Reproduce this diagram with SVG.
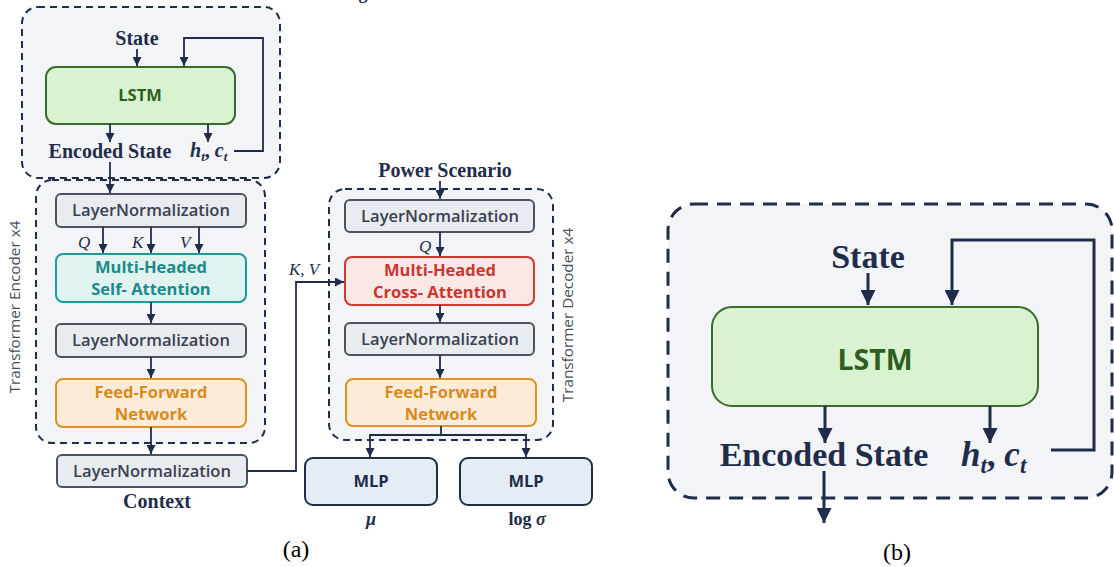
<svg xmlns="http://www.w3.org/2000/svg" width="1114" height="567" viewBox="0 0 1114 567">
<defs>
<style>
.grp{fill:#f3f4f7;stroke:#1f2d4a;stroke-width:2;stroke-dasharray:7,5}
.grpb{fill:#f3f4f7;stroke:#1f2d4a;stroke-width:3;stroke-dasharray:14,9}
.ln{fill:none;stroke:#1f2d4a;stroke-width:1.8}
.lnb{fill:none;stroke:#1f2d4a;stroke-width:3}
.ser{font-family:"Liberation Serif","DejaVu Serif",serif;font-weight:bold;fill:#1f2d4a}
.math{font-family:"Liberation Serif","DejaVu Serif",serif;font-style:italic;fill:#1f2d4a}
.sans{font-family:"Open Sans","Noto Sans","Liberation Sans",sans-serif}
.norm{fill:#e8ebef;stroke:#4a5363;stroke-width:2}
.normt{font-size:16.5px;fill:#3a4150;font-weight:600}
.lstm{fill:#d9f2d0;stroke:#3a6b2a;stroke-width:2}
.lstmt{fill:#2e5e1e;font-weight:bold}
.mhsa{fill:#e0f3f0;stroke:#1e9a9a;stroke-width:2}
.mhsat{fill:#1a8a8a;font-weight:bold;font-size:16.5px}
.mhca{fill:#fbe7e6;stroke:#d03a2e;stroke-width:2}
.mhcat{fill:#c8372d;font-weight:bold;font-size:16.5px}
.ffn{fill:#fbecd9;stroke:#e0921e;stroke-width:2}
.ffnt{fill:#d98a1a;font-weight:bold;font-size:16.5px}
.mlp{fill:#e4ecf5;stroke:#1f2d4a;stroke-width:2}
.mlpt{fill:#1f2d4a;font-weight:bold;font-size:16.5px}
.side{font-family:"Open Sans","Noto Sans",sans-serif;font-size:15.3px;fill:#4a5060}
.cap{font-family:"Liberation Serif",serif;font-size:24px;fill:#000}
</style>
<marker id="ah" viewBox="0 0 10 10" refX="10" refY="5" markerWidth="9" markerHeight="9" markerUnits="userSpaceOnUse" orient="auto"><path d="M0,0 L10,5 L0,10 z" fill="#1f2d4a"/></marker>
<marker id="ahb" viewBox="0 0 10 10" refX="10" refY="5" markerWidth="15" markerHeight="15" markerUnits="userSpaceOnUse" orient="auto"><path d="M0,0 L10,5 L0,10 z" fill="#1f2d4a"/></marker>
</defs>
<rect width="1114" height="567" fill="#ffffff"/>
<text class="ser" x="363" y="-1" font-size="18" text-anchor="middle">g</text>

<!-- Panel (a) groups -->
<g id="lstm-group">
<rect class="grp" x="22" y="7" width="258" height="171" rx="16"/>
<text class="ser" x="137" y="45" font-size="20" text-anchor="middle">State</text>
<text class="ser" x="110" y="158" font-size="20" text-anchor="middle">Encoded State</text>
<text class="ser" x="190" y="157" font-size="20"><tspan font-style="italic">h</tspan><tspan font-style="italic" font-size="13" dy="4">t</tspan><tspan dy="-4">, </tspan><tspan font-style="italic">c</tspan><tspan font-style="italic" font-size="13" dy="4">t</tspan></text>
</g>
<g id="lstm">
<rect class="lstm" x="46" y="67" width="189" height="57" rx="10"/>
<text class="sans lstmt" x="140" y="101" font-size="16.5" text-anchor="middle">LSTM</text>
</g>

<g id="encoder">
<rect class="grp" x="36" y="180" width="229" height="263" rx="16"/>
<text class="side" transform="translate(20,307) rotate(-90)" text-anchor="middle">Transformer Encoder x4</text>
</g>
<g id="enc-ln1">
<rect class="norm" x="56" y="194" width="190" height="33" rx="5"/>
<text class="sans normt" x="151" y="216" text-anchor="middle">LayerNormalization</text>
</g>
<g id="enc-mhsa">
<rect class="mhsa" x="56" y="254" width="190" height="48" rx="7"/>
<text class="sans mhsat" x="151" y="273" text-anchor="middle">Multi-Headed</text>
<text class="sans mhsat" x="151" y="295" text-anchor="middle">Self- Attention</text>
</g>
<g id="enc-ln2">
<rect class="norm" x="56" y="324" width="190" height="33" rx="5"/>
<text class="sans normt" x="151" y="346" text-anchor="middle">LayerNormalization</text>
</g>
<g id="enc-ffn">
<rect class="ffn" x="56" y="379" width="190" height="48" rx="7"/>
<text class="sans ffnt" x="151" y="398" text-anchor="middle">Feed-Forward</text>
<text class="sans ffnt" x="151" y="420" text-anchor="middle">Network</text>
</g>
<g id="context-ln">
<rect class="norm" x="57" y="455" width="190" height="32" rx="5"/>
<text class="sans normt" x="152" y="477" text-anchor="middle">LayerNormalization</text>
<text class="ser" x="157" y="508" font-size="20" text-anchor="middle">Context</text>
</g>

<g id="decoder">
<rect class="grp" x="329" y="189" width="224" height="251" rx="16"/>
<text class="side" transform="translate(573,315) rotate(-90)" text-anchor="middle">Transformer Decoder x4</text>
<text class="ser" x="445" y="177" font-size="20" text-anchor="middle">Power Scenario</text>
</g>
<g id="dec-ln1">
<rect class="norm" x="345" y="200" width="189" height="32" rx="5"/>
<text class="sans normt" x="440" y="222" text-anchor="middle">LayerNormalization</text>
</g>
<g id="dec-mhca">
<rect class="mhca" x="345" y="257" width="189" height="48" rx="7"/>
<text class="sans mhcat" x="440" y="276" text-anchor="middle">Multi-Headed</text>
<text class="sans mhcat" x="440" y="298" text-anchor="middle">Cross- Attention</text>
</g>
<g id="dec-ln2">
<rect class="norm" x="345" y="323" width="189" height="32" rx="5"/>
<text class="sans normt" x="440" y="345" text-anchor="middle">LayerNormalization</text>
</g>
<g id="dec-ffn">
<rect class="ffn" x="346" y="379" width="190" height="47" rx="7"/>
<text class="sans ffnt" x="441" y="398" text-anchor="middle">Feed-Forward</text>
<text class="sans ffnt" x="441" y="420" text-anchor="middle">Network</text>
</g>
<g id="mlp-mu">
<rect class="mlp" x="305" y="458" width="132" height="47" rx="8"/>
<text class="sans mlpt" x="371" y="487" text-anchor="middle">MLP</text>
<text class="math" x="371" y="525" font-size="18" font-weight="bold" text-anchor="middle">μ</text>
</g>
<g id="mlp-sigma">
<rect class="mlp" x="460" y="458" width="132" height="47" rx="8"/>
<text class="sans mlpt" x="526" y="487" text-anchor="middle">MLP</text>
<text class="ser" x="527" y="525" font-size="18" text-anchor="middle">log <tspan font-style="italic">σ</tspan></text>
</g>

<!-- Panel (b) -->
<g id="lstm-detail">
<rect class="grpb" x="668" y="204" width="444" height="294" rx="26"/>
<text class="ser" x="868" y="268" font-size="34" text-anchor="middle">State</text>
<rect class="lstm" x="712" y="307" width="326" height="99" rx="20" stroke-width="3"/>
<text class="sans lstmt" x="875" y="370" font-size="28.5" text-anchor="middle">LSTM</text>
<text class="ser" x="824" y="466" font-size="34" text-anchor="middle">Encoded State</text>
<text class="ser" x="961" y="466" font-size="35"><tspan font-style="italic">h</tspan><tspan font-style="italic" font-size="23" dy="7">t</tspan><tspan dy="-7">, </tspan><tspan font-style="italic">c</tspan><tspan font-style="italic" font-size="23" dy="7">t</tspan></text>
</g>

<!-- Labels -->
<g id="labels">
<text class="math" x="78" y="248" font-size="17">Q</text>
<text class="math" x="132" y="248" font-size="17">K</text>
<text class="math" x="180" y="248" font-size="17">V</text>
<text class="math" x="289" y="275" font-size="17">K, V</text>
<text class="math" x="419" y="252" font-size="17">Q</text>
<text class="cap" x="296" y="557" text-anchor="middle">(a)</text>
<text class="cap" x="897" y="560" text-anchor="middle">(b)</text>
</g>

<!-- Connectors -->
<g id="connectors">
<line class="ln" x1="137" y1="49" x2="137" y2="66" marker-end="url(#ah)"/>
<path class="ln" d="M234,151 H263 V38 H184 V66" marker-end="url(#ah)"/>
<line class="ln" x1="110" y1="124" x2="110" y2="142" marker-end="url(#ah)"/>
<line class="ln" x1="208" y1="124" x2="208" y2="142" marker-end="url(#ah)"/>
<line class="ln" x1="110" y1="162" x2="110" y2="193" marker-end="url(#ah)"/>
<line class="ln" x1="103" y1="227" x2="103" y2="253" marker-end="url(#ah)"/>
<line class="ln" x1="151" y1="227" x2="151" y2="253" marker-end="url(#ah)"/>
<line class="ln" x1="199" y1="227" x2="199" y2="253" marker-end="url(#ah)"/>
<line class="ln" x1="151" y1="302" x2="151" y2="323" marker-end="url(#ah)"/>
<line class="ln" x1="151" y1="357" x2="151" y2="378" marker-end="url(#ah)"/>
<line class="ln" x1="151" y1="427" x2="151" y2="454" marker-end="url(#ah)"/>
<path class="ln" d="M247,471 H296 V282 H344" marker-end="url(#ah)"/>
<line class="ln" x1="440" y1="181" x2="440" y2="199" marker-end="url(#ah)"/>
<line class="ln" x1="440" y1="232" x2="440" y2="256" marker-end="url(#ah)"/>
<line class="ln" x1="440" y1="305" x2="440" y2="322" marker-end="url(#ah)"/>
<line class="ln" x1="440" y1="355" x2="440" y2="378" marker-end="url(#ah)"/>
<path class="ln" d="M441,426 V435"/>
<path class="ln" d="M441,435 H370 V457" marker-end="url(#ah)"/>
<path class="ln" d="M441,435 H526 V457" marker-end="url(#ah)"/>
<line class="lnb" x1="868" y1="273" x2="868" y2="305" marker-end="url(#ahb)"/>
<path class="lnb" d="M1051,450 H1094 V240 H952 V305" marker-end="url(#ahb)"/>
<line class="lnb" x1="825" y1="406" x2="825" y2="443" marker-end="url(#ahb)"/>
<line class="lnb" x1="990" y1="406" x2="990" y2="443" marker-end="url(#ahb)"/>
<line class="lnb" x1="824" y1="471" x2="824" y2="523" marker-end="url(#ahb)"/>
</g>
</svg>
